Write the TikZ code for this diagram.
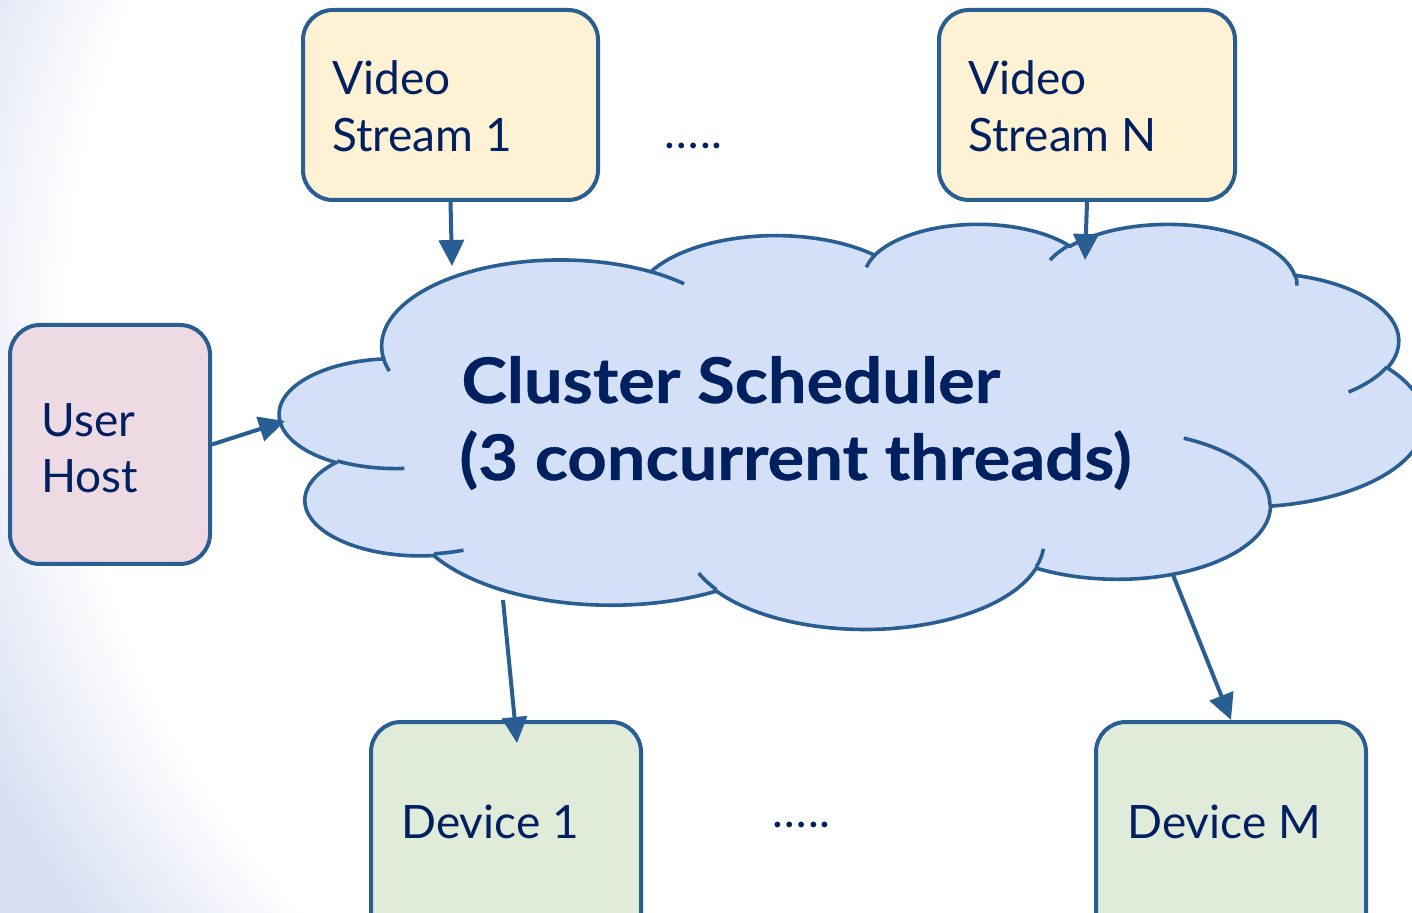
\documentclass[tikz,border=0pt]{standalone}
\usepackage{fontspec}
\setmainfont{Lato}
\newfontfamily\headfont[FakeStretch=1.09, FakeBold=0.6]{Lato}
\usetikzlibrary{arrows.meta}

\definecolor{edge}{RGB}{41,94,146}
\definecolor{ink}{RGB}{0,32,96}
\definecolor{streamfill}{RGB}{255,242,212}
\definecolor{hostfill}{RGB}{238,218,227}
\definecolor{devfill}{RGB}{225,235,217}
\definecolor{cloudfill}{RGB}{211,224,248}
\definecolor{tint}{RGB}{216,223,242}

% One lobe of the cloud: elliptical arc with radii #2, #3, starting in
% direction #4 (seen from the lobe centre) and sweeping #5 degrees.
% Stores the matching arc options as the style #1.
\newcommand\cloudseg[5]{%
  \pgfmathsetmacro\cldS{atan2((#2)*sin(#4),(#3)*cos(#4))}%
  \pgfmathsetmacro\cldE{atan2((#2)*sin((#4)+(#5)),(#3)*cos((#4)+(#5)))}%
  \pgfmathsetmacro\cldT{\cldS+mod(\cldE-\cldS+720,360)}%
  \edef\cldDo{\noexpand\tikzset{#1/.style={x radius=#2,y radius=#3,start angle=\cldS,end angle=\cldT}}}%
  \cldDo}

% outline lobes, clockwise from the upper left
\cloudseg{lobeA}{67.53}{91.90}{-190.48748}{123.78053}
\cloudseg{lobeB}{53.33}{72.67}{-144.10238}{89.94523}
\cloudseg{lobeC}{43.65}{59.45}{-145.80792}{99.72302}
\cloudseg{lobeD}{48.57}{65.95}{-130.98607}{117.24173}
\cloudseg{lobeE}{53.33}{72.73}{-78.70888}{109.02692}
\cloudseg{lobeF}{67.75}{92.20}{-46.26725}{130.269}
\cloudseg{lobeG}{57.85}{78.67}{0.62502}{114.03333}
\cloudseg{lobeH}{67.52}{92.15}{22.4516}{115.17255}
\cloudseg{lobeI}{77.20}{105.43}{66.24263}{75.71102}
\cloudseg{lobeJ}{43.60}{59.18}{-274.94208}{146.73557}
\cloudseg{lobeK}{43.45}{59.45}{-246.8285}{152.51885}
% inner creases continuing the lobes
\cloudseg{creaseA}{43.45}{59.45}{86.742}{26.4295}
\cloudseg{creaseB}{43.60}{59.18}{73.61047}{11.44747}
\cloudseg{creaseC}{67.52}{92.15}{137.62415}{14.0811}
\cloudseg{creaseD}{67.52}{92.15}{6.45327}{15.99835}
\cloudseg{creaseE}{57.85}{78.67}{-70.29235}{70.91737}
\cloudseg{creaseF}{53.33}{72.73}{30.31803}{27.7515}
\cloudseg{creaseG}{48.57}{65.95}{-13.74433}{14.8589}
\cloudseg{creaseH}{48.57}{65.95}{-149.18145}{18.19537}
\cloudseg{creaseI}{43.65}{59.45}{-163.49427}{17.68635}
\cloudseg{creaseJ}{67.53}{91.90}{-66.70695}{11.86}
\cloudseg{creaseK}{67.53}{91.90}{-202.35}{11.86}

\tikzset{
  box/.style={draw=edge, line width=2pt, rounded corners=15pt, inner sep=0pt},
  boxtext/.style={text=ink, font=\fontsize{23}{28}\selectfont, anchor=base west, inner sep=0pt},
  headtext/.style={text=ink, font=\headfont\bfseries\fontsize{31.5}{38}\selectfont, anchor=base west, inner sep=0pt},
  flow/.style={draw=edge, line width=2pt, -{Triangle[length=13pt,width=12.5pt]}},
  cloudbody/.style={fill=cloudfill, draw=edge, line width=1.8pt},
  cloudcrease/.style={draw=edge, line width=1.8pt},
}

\begin{document}
\begin{tikzpicture}[x=0.5pt, y=-0.5pt]
  \useasboundingbox (0,0) rectangle (1412,913);

  % backdrop: pale tint, with a large white oval blending into it
  \fill[tint] (0,0) rectangle (1412,913);
  \coordinate (glow) at (1115,323);
  \foreach \k in {0,...,29} {
    \pgfmathtruncatemacro\mix{100*\k/29}
    \fill[white!\mix!tint] (glow) ellipse [x radius=1240-190*\k/29, y radius=1100-166*\k/29];
  }

  % the cloud
  \begin{scope}[x=1.324074pt, y=-0.46875pt, shift={(140pt,-111.5pt)}]
    \path[cloudbody] (39.00,143.70)
      arc[lobeA] arc[lobeB] arc[lobeC] arc[lobeD] arc[lobeE] arc[lobeF]
      arc[lobeG] arc[lobeH] arc[lobeI] arc[lobeJ] arc[lobeK] -- cycle;
    \draw[cloudcrease] (46.93,261.77) arc[creaseA];
    \draw[cloudcrease] (69.28,348.99) arc[creaseB];
    \draw[cloudcrease] (164.78,390.90) arc[creaseC];
    \draw[cloudcrease] (288.27,347.51) arc[creaseD];
    \draw[cloudcrease] (341.29,229.54) arc[creaseE];
    \draw[cloudcrease] (417.98,153.54) arc[creaseF];
    \draw[cloudcrease] (383.24,54.26) arc[creaseG];
    \draw[cloudcrease] (290.78,39.52) arc[creaseH];
    \draw[cloudcrease] (221.41,47.20) arc[creaseI];
    \draw[cloudcrease] (140.00,51.92) arc[creaseJ];
    \draw[cloudcrease] (41.27,157.89) arc[creaseK];
  \end{scope}

  % boxes
  \node[box, fill=streamfill, minimum width=147.5pt, minimum height=95pt] (v1) at (450.5,105) {};
  \node[box, fill=streamfill, minimum width=148pt, minimum height=95pt] (vN) at (1087,105) {};
  \node[box, fill=hostfill, minimum width=100pt, minimum height=119.5pt] (uh) at (110,444.5) {};
  \node[box, fill=devfill, minimum width=135pt, minimum height=124pt] (d1) at (506,846) {};
  \node[box, fill=devfill, minimum width=135pt, minimum height=124pt] (dM) at (1231,846) {};

  % labels
  \node[boxtext] (v1a) at (332,95) {Video};
  \node[boxtext] (v1b) at (332,152) {Stream 1};
  \node[boxtext] (vNa) at (968,95) {Video};
  \node[boxtext] (vNb) at (968,152) {Stream N};
  \node[boxtext] (uha) at (41,437) {User};
  \node[boxtext] (uhb) at (41,493) {Host};
  \node[boxtext] (d1a) at (401,838) {Device 1};
  \node[boxtext] (dMa) at (1127,838) {Device M};
  \node[boxtext] (gap1) at (664,149) {…\kern1pt..};
  \node[boxtext] (gap2) at (772,827) {…\kern1pt..};
  \node[headtext] (cs1) at (461,403) {Cluster Scheduler};
  \node[headtext] (cs2) at (459,480) {(3 concurrent threads)};

  % connectors
  \coordinate (v1in) at (452,266);
  \coordinate (vNin) at (1085,260);
  \coordinate (uhin) at (285,421);
  \coordinate (d1out) at (503,600);
  \coordinate (d1in) at (517,743);
  \coordinate (dMout) at (1173,575);
  \draw[flow] (v1.south) -- (v1in);
  \draw[flow] (vN.south) -- (vNin);
  \draw[flow] (uh.east) -- (uhin);
  \draw[flow] (d1out) -- (d1in);
  \draw[flow] (dMout) -- (dM.north);
\end{tikzpicture}
\end{document}
